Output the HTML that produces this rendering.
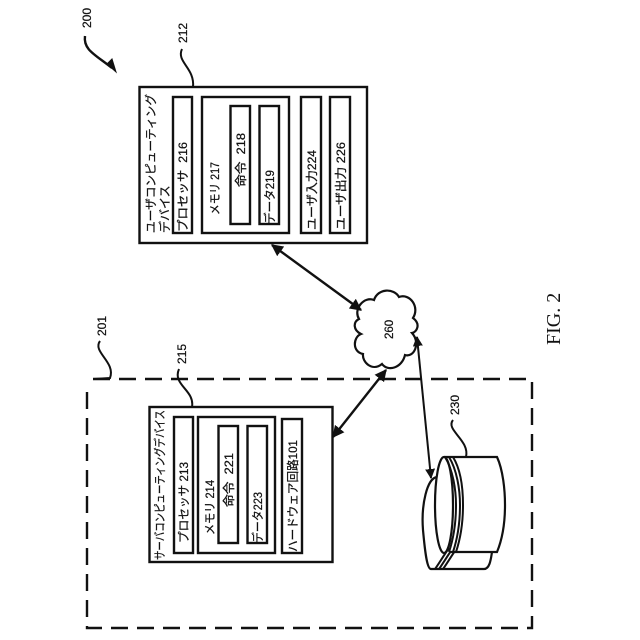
<!DOCTYPE html>
<html><head><meta charset="utf-8"><style>
html,body{margin:0;padding:0;background:#fff;width:640px;height:640px;overflow:hidden}
svg{display:block}
text{font-family:"Liberation Sans","Noto Sans CJK JP",sans-serif;font-size:12px;fill:#111;stroke:#111;stroke-width:.25}
.b{fill:#fff;stroke:#111;stroke-width:2.4}
.l{fill:none;stroke:#111;stroke-width:2}
.a{fill:none;stroke:#111;stroke-width:2.4}
</style></head><body>
<svg width="640" height="640" viewBox="0 0 640 640" xmlns="http://www.w3.org/2000/svg">
<defs><marker id="ar" viewBox="0 0 10 10" refX="9" refY="5" markerWidth="5" markerHeight="5" orient="auto-start-reverse" markerUnits="strokeWidth"><path d="M0 0L10 5L0 10Z" fill="#111"/></marker></defs>

<!-- dashed boundary -->
<path d="M93 379H532V628H87V387" fill="none" stroke="#111" stroke-width="2.4" stroke-dasharray="17 9"/>

<!-- leaders -->
<path d="M85 36C83 50 96 55 112 68" class="a"/>
<path d="M107 64L116 72L112 59Z" fill="#111" stroke="#111"/>
<path d="M182 49C176 62 195 68 193 87" class="l"/>
<path d="M100 341C92 352 116 362 110 378L94 379" class="l"/>
<path d="M179 369C172 385 195 390 192 407" class="l"/>
<path d="M453 420C445 430 470 440 466 457" class="l"/>

<!-- user device -->
<rect x="139.500" y="87" width="227.500" height="156" class="b"/>
<rect x="173" y="97" width="19" height="136" class="b"/>
<rect x="202" y="97" width="87" height="136" class="b"/>
<rect x="230.500" y="106" width="19.500" height="118" class="b"/>
<rect x="259.500" y="106" width="19.500" height="118" class="b"/>
<rect x="301" y="97" width="20" height="136" class="b"/>
<rect x="330" y="97" width="20" height="136" class="b"/>
<text transform="translate(155 233) rotate(-90)" textLength="139" lengthAdjust="spacingAndGlyphs">ユーザコンピューティング</text>
<text transform="translate(169 233) rotate(-90)">デバイス</text>
<text transform="translate(187 232) rotate(-90)" textLength="90" lengthAdjust="spacingAndGlyphs">プロセッサ&#160;&#160;216</text>
<text transform="translate(219 215) rotate(-90)" textLength="53" lengthAdjust="spacingAndGlyphs">メモリ 217</text>
<text transform="translate(245 187) rotate(-90)" textLength="54" lengthAdjust="spacingAndGlyphs">命令&#160;&#160;218</text>
<text transform="translate(274 224) rotate(-90)" textLength="54" lengthAdjust="spacingAndGlyphs">データ219</text>
<text transform="translate(316 230) rotate(-90)" textLength="80" lengthAdjust="spacingAndGlyphs">ユーザ入力224</text>
<text transform="translate(345 230) rotate(-90)" textLength="88" lengthAdjust="spacingAndGlyphs">ユーザ出力 226</text>

<!-- server device -->
<rect x="149.500" y="407" width="183" height="155" class="b"/>
<rect x="174" y="417" width="19" height="136" class="b"/>
<rect x="198" y="417" width="77" height="136" class="b"/>
<rect x="218.500" y="426" width="19.500" height="117" class="b"/>
<rect x="247.500" y="426" width="19.500" height="117" class="b"/>
<rect x="282" y="419" width="20" height="134" class="b"/>
<text transform="translate(164 560) rotate(-90)" textLength="150" lengthAdjust="spacingAndGlyphs">サーバコンピューティングデバイス</text>
<text transform="translate(188 543) rotate(-90)" textLength="81" lengthAdjust="spacingAndGlyphs">プロセッサ 213</text>
<text transform="translate(214 535) rotate(-90)" textLength="55" lengthAdjust="spacingAndGlyphs">メモリ 214</text>
<text transform="translate(233 507) rotate(-90)" textLength="54" lengthAdjust="spacingAndGlyphs">命令&#160;&#160;221</text>
<text transform="translate(262 543) rotate(-90)" textLength="51" lengthAdjust="spacingAndGlyphs">データ223</text>
<text transform="translate(297 552) rotate(-90)" textLength="112" lengthAdjust="spacingAndGlyphs">ハードウェア回路101</text>

<!-- cloud -->
<path d="M359 319C353 309 364 296 374 300C378 288 394 288 399 297C410 293 420 307 413 318C421 324 417 332 412 333C421 343 414 358 405 355C402 368 388 372 382 364C372 372 362 362 363 354C352 352 353 337 361 334C353 330 353 322 359 319Z" fill="#fff" stroke="#111" stroke-width="2.2"/>
<text transform="translate(393 339) rotate(-90)" style="font-size:11.500px">260</text>

<!-- cylinder -->
<path d="M437 477C427 478 421 505 423 530C425 552 427 569 431 569H484C490 569 491 558 492 552" fill="#fff" stroke="#111" stroke-width="2.2"/>
<path d="M435 569C438 565 444 555 449 548M439 569C442 565 448 555 453 548M443 569C446 565 452 555 457 548" class="l"/>
<path d="M444 457H497C503 470 505 490 505 505C505 525 502 540 497 552H450" fill="#fff" stroke="#111" stroke-width="2.2"/>
<ellipse cx="444" cy="505" rx="9" ry="48" fill="#fff" stroke="#111" stroke-width="2.2"/>
<path d="M445 457C453 470 456 490 456 505C456 525 453 540 449 552M449 457C457 470 460 490 460 505C460 525 457 540 453 552M453 457C461 470 463 490 463 505C463 525 460 540 456 552" class="l"/>

<!-- connectors -->
<path d="M272 245L361 310" class="a" marker-start="url(#ar)" marker-end="url(#ar)"/>
<path d="M333 437L386 370" class="a" marker-start="url(#ar)" marker-end="url(#ar)"/>
<path d="M417 337L431 478" class="l" marker-start="url(#ar)" marker-end="url(#ar)"/>

<!-- labels -->
<text transform="translate(91 28) rotate(-90)">200</text>
<text transform="translate(187 43) rotate(-90)">212</text>
<text transform="translate(106 336) rotate(-90)">201</text>
<text transform="translate(186 364) rotate(-90)">215</text>
<text transform="translate(459 415) rotate(-90)">230</text>
<text transform="translate(560 345) rotate(-90)" style="font-family:'Liberation Serif',serif;font-size:20px;stroke-width:0">FIG. 2</text>
</svg>
</body></html>
